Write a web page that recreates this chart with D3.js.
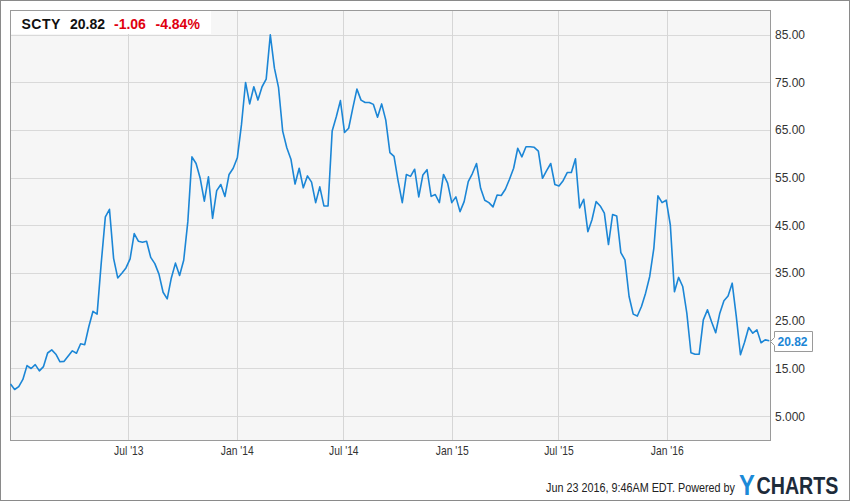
<!DOCTYPE html>
<html>
<head>
<meta charset="utf-8">
<script src="https://cdn.jsdelivr.net/npm/d3@7"></script>
<style>
  html, body { margin: 0; padding: 0; background: #fff; }
  svg { display: block; }
  .axis text { font-family: "Liberation Sans", Arial, sans-serif; font-size: 12px; fill: #333; }
</style>
</head>
<body>
<div id="view"></div>
<script>
// ---------- Data (weekly closes, SCTY) ----------
const startDay = new Date(2012, 11, 13);
const endDay   = new Date(2016, 5, 23);
const prices = [
  11.75, 10.6, 11.2, 12.7, 15.6, 15.0, 15.8, 14.5, 15.4, 18.25,
  18.9, 18.0, 16.4, 16.5, 17.6, 18.7, 18.2, 20.2, 20.0, 23.8,
  27.0, 26.4, 37.1, 46.8, 48.4, 38.1, 34.0, 35.0, 36.1, 38.0,
  43.3, 41.7, 41.5, 41.7, 38.3, 37.0, 34.8, 31.0, 29.6, 34.0,
  37.1, 34.5, 37.7, 45.8, 59.4, 58.0, 54.9, 50.1, 55.2, 46.5,
  52.3, 53.6, 51.1, 55.7, 57.0, 59.2, 66.1, 75.0, 70.5, 74.1,
  71.3, 74.1, 75.7, 85.0, 78.0, 73.9, 64.8, 61.3, 58.9, 53.7,
  57.0, 52.9, 55.4, 54.1, 49.8, 53.1, 49.1, 49.1, 64.8, 67.8,
  71.2, 64.5, 65.4, 69.6, 73.6, 71.3, 70.8, 70.8, 70.4, 67.7,
  70.5, 67.1, 60.3, 59.5, 54.3, 49.8, 55.7, 55.3, 56.8, 51.0,
  55.6, 56.7, 51.1, 51.5, 49.8, 55.7, 53.9, 49.8, 51.0, 47.9,
  50.0, 54.2, 55.9, 58.0, 52.8, 50.3, 49.8, 48.9, 51.4, 51.3,
  52.6, 54.7, 57.0, 61.2, 59.4, 61.5, 61.5, 61.4, 60.6, 54.9,
  56.5, 58.0, 53.6, 53.3, 54.4, 56.1, 56.1, 59.0, 48.7, 50.5,
  43.7, 46.2, 50.0, 49.1, 47.6, 41.0, 47.3, 47.0, 39.3, 37.8,
  30.1, 26.4, 26.0, 28.0, 30.8, 34.3, 40.2, 51.2, 49.8, 50.3,
  45.1, 31.1, 34.1, 32.2, 26.6, 18.3, 18.0, 18.0, 25.2, 27.3,
  24.8, 22.5, 26.6, 29.2, 30.2, 32.9, 25.9, 17.9, 20.5, 23.6,
  22.4, 23.1, 20.4, 21.0, 20.82
];

const yTicks      = [5, 15, 25, 35, 45, 55, 65, 75, 85];
const yTickLabels = ["5.000", "15.00", "25.00", "35.00", "45.00", "55.00", "65.00", "75.00", "85.00"];
const xTicks      = ["2013-07-01", "2014-01-01", "2014-07-01", "2015-01-01", "2015-07-01", "2016-01-01"];
const xTickLabels = ["Jul '13", "Jan '14", "Jul '14", "Jan '15", "Jul '15", "Jan '16"];

const ticker = "SCTY", lastPrice = "20.82", change = "-1.06", changePct = "-4.84%";
const stamp = "Jun 23 2016, 9:46AM EDT.  Powered by";

// ---------- Layout ----------
const W = 850, H = 501;
const P = { l: 10, t: 10, r: 770, b: 440 };
const FONT = "'Liberation Sans', Arial, sans-serif";

const svg = d3.select("#view").append("svg").attr("width", W).attr("height", H);

// outer frame
svg.append("rect")
  .attr("x", 0.5).attr("y", 0.5).attr("width", W - 1).attr("height", H - 1)
  .attr("fill", "#fff").attr("stroke", "#8a8a8a");

// plot background
svg.append("rect")
  .attr("x", P.l).attr("y", P.t).attr("width", P.r - P.l).attr("height", P.b - P.t)
  .attr("fill", "#f6f6f6");

// ---------- Scales ----------
const parse = d3.timeParse("%Y-%m-%d");
const dates = d3.timeThursday.range(startDay, d3.timeDay.offset(endDay, 1));
const rows = dates.map((d, i) => ({ date: d, v: prices[i] }));

const x = d3.scaleTime().domain([startDay, endDay]).range([10.5, 769.3]);
const y = d3.scaleLinear().domain([0, 90.2]).range([P.b, P.t]);

// ---------- Grid ----------
const grid = svg.append("g");
grid.selectAll("line.h")
  .data(yTicks)
  .join("line")
  .attr("x1", P.l).attr("x2", P.r)
  .attr("y1", d => Math.round(y(d)) + 0.5).attr("y2", d => Math.round(y(d)) + 0.5)
  .attr("stroke", "#d9d9d9");
grid.selectAll("line.v")
  .data(xTicks.map(parse))
  .join("line")
  .attr("y1", P.t).attr("y2", P.b)
  .attr("x1", d => Math.round(x(d)) + 0.5).attr("x2", d => Math.round(x(d)) + 0.5)
  .attr("stroke", "#d6d6d6");

// plot border
svg.append("rect")
  .attr("x", P.l + 0.5).attr("y", P.t + 0.5).attr("width", P.r - P.l).attr("height", P.b - P.t)
  .attr("fill", "none").attr("stroke", "#9a9a9a");

// ---------- Axes ----------
svg.append("g")
  .attr("class", "axis")
  .attr("transform", `translate(${P.r},0)`)
  .call(d3.axisRight(y).tickValues(yTicks).tickSize(0).tickPadding(5)
    .tickFormat((d, i) => yTickLabels[i]))
  .select(".domain").remove();

// x labels: narrow look via horizontal scale around each tick
const xg = svg.append("g")
  .attr("class", "axis")
  .attr("transform", `translate(0,${P.b})`)
  .call(d3.axisBottom(x).tickValues(xTicks.map(parse)).tickSize(0).tickPadding(6)
    .tickFormat((d, i) => xTickLabels[i]));
xg.select(".domain").remove();
xg.selectAll(".tick text").attr("fill", "#222").attr("transform", "scale(0.86,1)");

// ---------- Line ----------
svg.append("path")
  .datum(rows)
  .attr("fill", "none")
  .attr("stroke", "#1b86d6")
  .attr("stroke-width", 1.6)
  .attr("stroke-linejoin", "round")
  .attr("d", d3.line().x(d => x(d.date)).y(d => y(d.v)));

// ---------- Last value flag ----------
const last = rows[rows.length - 1];
const ly = Math.round(y(last.v)) + 0.5;
const fx = P.r + 4.5;
svg.append("path")
  .attr("d", `M${fx - 4},${ly} L${fx},${ly - 4} L${fx},${ly - 10} L${fx + 38},${ly - 10} L${fx + 38},${ly + 10} L${fx},${ly + 10} L${fx},${ly + 4} Z`)
  .attr("fill", "#fff").attr("stroke", "#9a9a9a");
svg.append("text")
  .attr("x", fx + 3).attr("y", ly).attr("dy", "0.36em")
  .style("font", `bold 12px ${FONT}`)
  .attr("fill", "#1b86d6")
  .text(lastPrice);

// ---------- Header box ----------
svg.append("rect")
  .attr("x", P.l + 1).attr("y", P.t + 1).attr("width", 200).attr("height", 23)
  .attr("fill", "#fff");
const hdr = svg.append("text")
  .attr("y", 29)
  .style("font", `bold 14px ${FONT}`);
hdr.append("tspan").attr("x", 21.5).attr("fill", "#111").attr("letter-spacing", "0.5px").text(ticker);
hdr.append("tspan").attr("x", 70).attr("fill", "#111").text(lastPrice);
hdr.append("tspan").attr("x", 114).attr("fill", "#e0000f").text(change);
hdr.append("tspan").attr("x", 155.5).attr("fill", "#e0000f").text(changePct);

// ---------- Footer ----------
svg.append("g")
  .attr("transform", "translate(735,492) scale(0.9,1)")
  .append("text")
  .attr("text-anchor", "end")
  .style("font", `12px ${FONT}`)
  .attr("fill", "#222")
  .text(stamp);

const logo = svg.append("g")
  .attr("transform", "translate(739,495) scale(0.82,1)")
  .append("text")
  .style("font-family", FONT)
  .style("font-weight", "bold");
logo.append("tspan").attr("fill", "#1b8ad8").style("font-size", "29px").text("Y");
logo.append("tspan").attr("dx", 2).attr("dy", -1).attr("fill", "#1d2b3a").style("font-size", "24px").text("CHARTS");
</script>
</body>
</html>
